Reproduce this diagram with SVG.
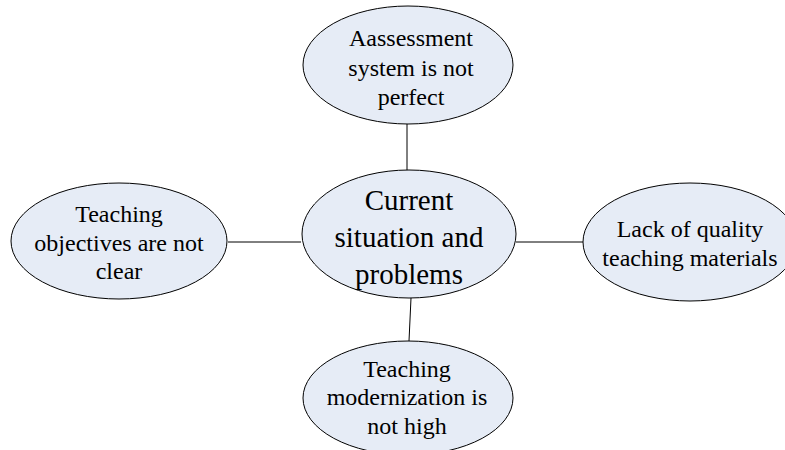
<svg xmlns="http://www.w3.org/2000/svg" width="785" height="450" viewBox="0 0 785 450">
<style>
.n{fill:#E6ECF6;stroke:#000;stroke-width:1}
.c{stroke:#000;stroke-width:1;fill:none}
text{font-family:"Liberation Serif","Times New Roman",serif;fill:#000;text-anchor:middle}
.s{font-size:24px}
.b{font-size:29px}
</style>
<rect width="785" height="450" fill="#fff"/>
<g id="connectors">
<line class="c" x1="407" y1="124" x2="407" y2="170"/>
<line class="c" x1="228" y1="242" x2="301" y2="242"/>
<line class="c" x1="516" y1="242" x2="583" y2="242"/>
<line class="c" x1="411" y1="298" x2="409" y2="341"/>
</g>
<g id="top">
<ellipse class="n" cx="408" cy="65" rx="105" ry="59"/>
<text class="s" x="411" y="46">Aassessment</text>
<text class="s" x="411" y="76">system is not</text>
<text class="s" x="411" y="105">perfect</text>
</g>
<g id="center">
<ellipse class="n" cx="409" cy="234" rx="107" ry="64"/>
<text class="b" x="409" y="210">Current</text>
<text class="b" x="409" y="247">situation and</text>
<text class="b" x="409" y="284">problems</text>
</g>
<g id="left">
<ellipse class="n" cx="119" cy="241" rx="108" ry="58"/>
<text class="s" x="119" y="222">Teaching</text>
<text class="s" x="119" y="251">objectives are not</text>
<text class="s" x="119" y="279">clear</text>
</g>
<g id="right">
<ellipse class="n" cx="690" cy="242" rx="107" ry="59"/>
<text class="s" x="690" y="237">Lack of quality</text>
<text class="s" x="690" y="266">teaching materials</text>
</g>
<g id="bottom">
<ellipse class="n" cx="408" cy="398" rx="105" ry="57"/>
<text class="s" x="407" y="377">Teaching</text>
<text class="s" x="407" y="405">modernization is</text>
<text class="s" x="407" y="434">not high</text>
</g>
</svg>
